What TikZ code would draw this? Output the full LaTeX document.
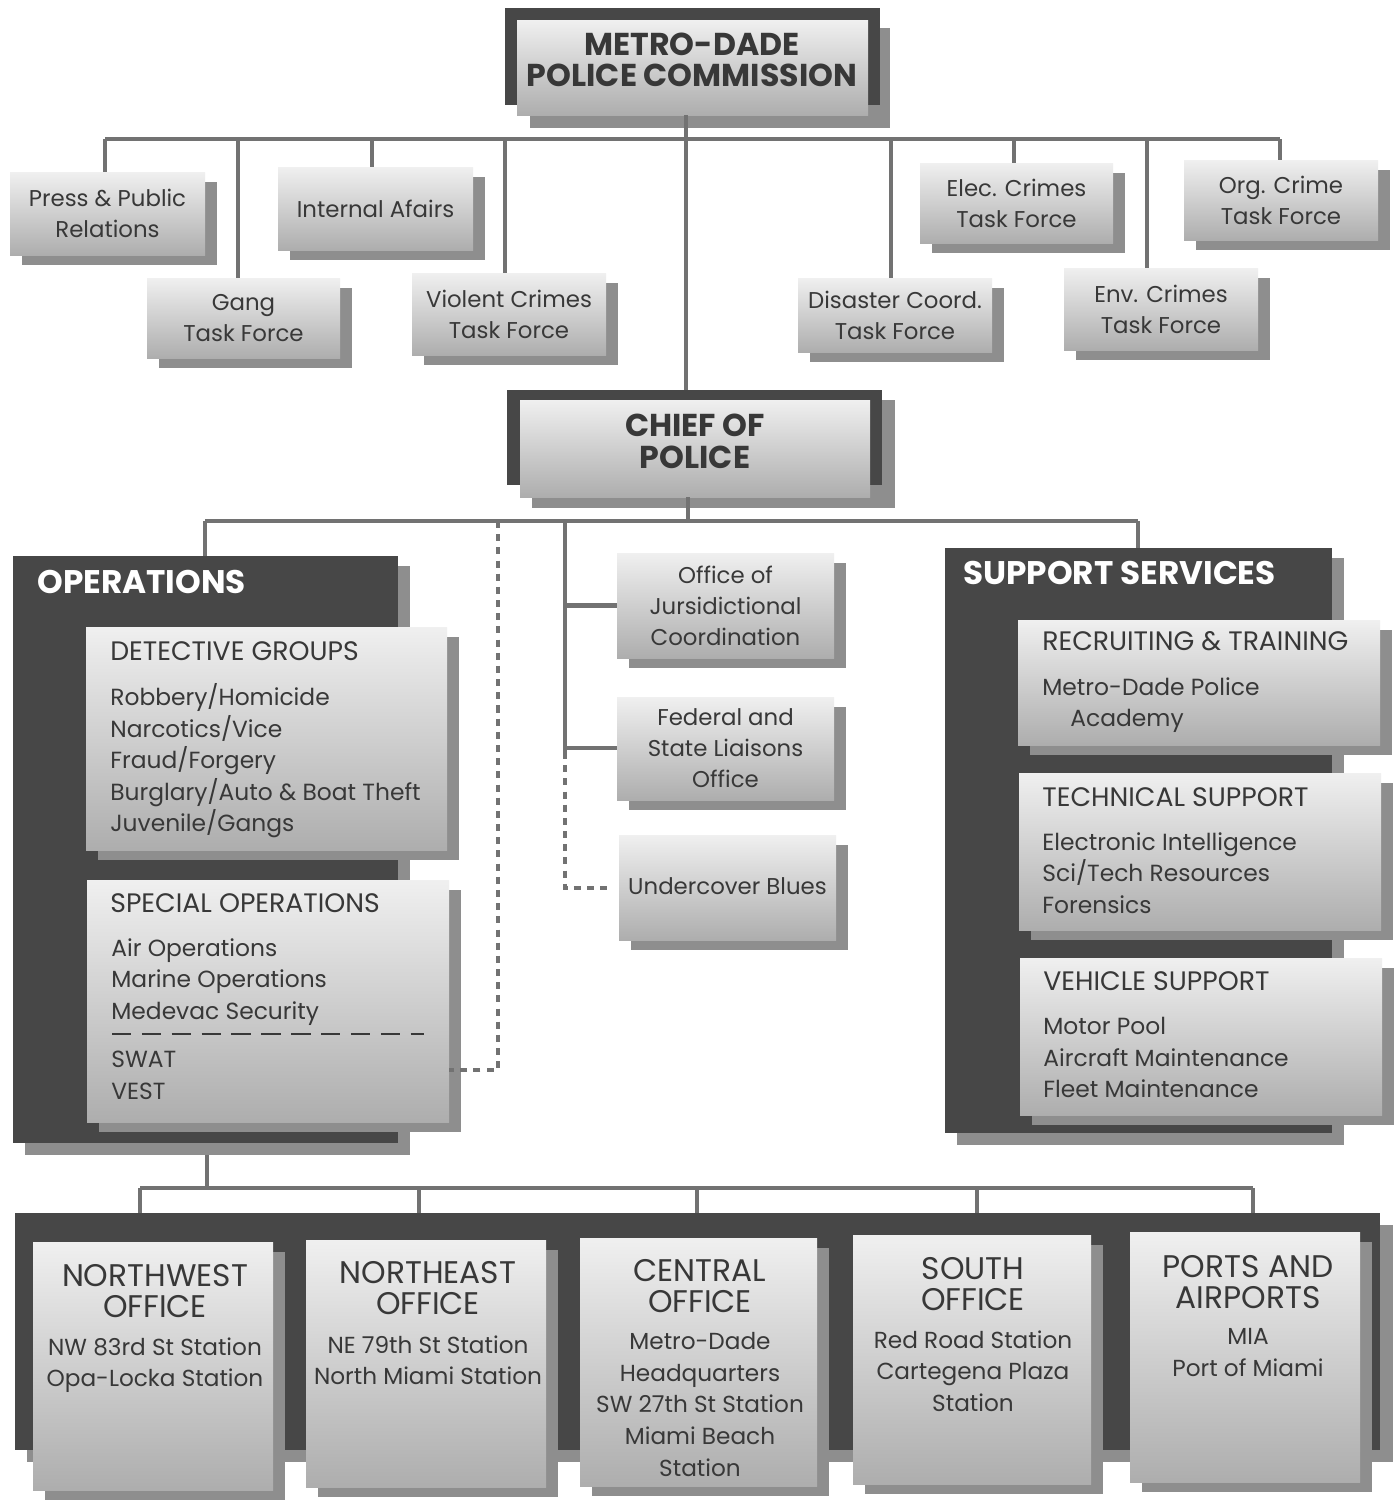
\documentclass[tikz,border=0pt]{standalone}
\usepackage{fontspec}
\setmainfont{Poppins}
\usetikzlibrary{fit}
\definecolor{framec}{HTML}{474747}
\definecolor{shadc}{HTML}{8E8E8E}
\definecolor{linec}{HTML}{727272}
\definecolor{inkc}{HTML}{383838}
\tikzset{
  panel/.style={top color=white!94!black, bottom color=white!68!black, draw=none, inner sep=0pt, outer sep=0pt},
  darkframe/.style={fill=framec, draw=none, inner sep=0pt, outer sep=0pt},
  shadowfill/.style={fill=shadc},
  conn/.style={draw=linec, line width=2.3pt},
  dconn/.style={draw=linec, line width=2.4pt, dash pattern=on 4pt off 3.5pt},
  boxtxt/.style={text=inkc, align=center, inner sep=0pt, font=\fontsize{13}{17.6}\selectfont},
  grouphead/.style={text=inkc, align=left, inner sep=0pt, anchor=north west, font=\fontsize{15.2}{18}\selectfont},
  groupitems/.style={text=inkc, align=left, inner sep=0pt, anchor=north west, font=\fontsize{13.3}{18}\selectfont},
  bighead/.style={text=inkc, align=center, inner sep=0pt, font=\bfseries\fontsize{18}{17.8}\selectfont},
  whitehead/.style={text=white, inner sep=0pt, anchor=north west, font=\bfseries\fontsize{18.6}{20}\selectfont},
  officehead/.style={text=inkc, align=center, inner sep=0pt, font=\fontsize{17.8}{17.6}\selectfont},
  officeitems/.style={text=inkc, align=center, inner sep=0pt, anchor=north, font=\fontsize{13.2}{18}\selectfont},
}
\newcommand\mkpanel[5]{%
  \fill[shadowfill] (#2+12,#3+10) rectangle (#4+12,#5+10);
  \node[panel, fit={(#2,#3) (#4,#5)}] (#1) {};
}
\newcommand\mkframe[5]{%
  \fill[shadowfill] (#2+12,#3+10) rectangle (#4+12,#5+12);
  \node[darkframe, fit={(#2,#3) (#4,#5)}] (#1) {};
}
\begin{document}
\begin{tikzpicture}[x=0.02cm, y=-0.02cm]
\fill[white] (0,0) rectangle (1400,1505);
\useasboundingbox (0,0) rectangle (1400,1505);

% ---------- Commission ----------
\fill[shadowfill] (530,28) rectangle (890,128);
\node[darkframe, fit={(505,8) (880,105)}] (commf) {};
\node[panel, fit={(517,20) (868,115)}] (comm) {};
\node[bighead] (commt) at (692,60) {METRO-DADE\\POLICE COMMISSION};

% ---------- Chief ----------
\fill[shadowfill] (532,400) rectangle (895,508);
\node[darkframe, fit={(507,390) (882,485)}] (chieff) {};
\node[panel, fit={(520,400) (870,497)}] (chief) {};
\node[bighead, font=\bfseries\fontsize{18}{18.2}\selectfont] (chieft) at (695,441) {CHIEF OF\\POLICE};

% ---------- top row boxes ----------
\mkpanel{press}{10}{172}{205}{255}
\mkpanel{gang}{147}{278}{340}{358}
\mkpanel{intaf}{278}{167}{473}{250}
\mkpanel{violent}{412}{273}{606}{355}
\mkpanel{disaster}{798}{278}{992}{352}
\mkpanel{elec}{920}{163}{1113}{243}
\mkpanel{env}{1064}{268}{1258}{350}
\mkpanel{org}{1184}{160}{1378}{240}
\node[boxtxt] (presst) at (press.center) {Press \& Public\\Relations};
\node[boxtxt] (gangt) at (gang.center) {Gang\\Task Force};
\node[boxtxt] (intaft) at (intaf.center) {Internal Afairs};
\node[boxtxt] (violentt) at (violent.center) {Violent Crimes\\Task Force};
\node[boxtxt] (disastert) at (disaster.center) {Disaster Coord.\\Task Force};
\node[boxtxt] (elect) at (elec.center) {Elec. Crimes\\Task Force};
\node[boxtxt] (envt) at (env.center) {Env. Crimes\\Task Force};
\node[boxtxt] (orgt) at (org.center) {Org. Crime\\Task Force};

% top bus
\coordinate (bL) at (105,139);
\coordinate (bR) at (1280,139);
\coordinate (bM) at (686,139);
\coordinate (bgang) at (238,139);
\coordinate (bintaf) at (372,139);
\coordinate (bviol) at (505,139);
\coordinate (bdis) at (891,139);
\coordinate (belec) at (1014,139);
\coordinate (benv) at (1147,139);
\draw[conn] (bL) -- (bR);
\draw[conn] (bM |- comm.south) -- (bM |- chieff.north);
\draw[conn] (bL) -- (bL |- press.north);
\draw[conn] (bgang) -- (bgang |- gang.north);
\draw[conn] (bintaf) -- (bintaf |- intaf.north);
\draw[conn] (bviol) -- (bviol |- violent.north);
\draw[conn] (bdis) -- (bdis |- disaster.north);
\draw[conn] (belec) -- (belec |- elec.north);
\draw[conn] (benv) -- (benv |- env.north);
\draw[conn] (bR) -- (bR |- org.north);

% ---------- Operations ----------
\mkframe{ops}{13}{556}{398}{1143}
\node[whitehead] (opst) at (37,570) {OPERATIONS};
\mkpanel{det}{86}{627}{447}{850}
\node[grouphead] (deth) at (110,641) {DETECTIVE GROUPS};
\node[groupitems] (deti) at (110,683) {Robbery/Homicide\\Narcotics/Vice\\Fraud/Forgery\\Burglary/Auto \& Boat Theft\\Juvenile/Gangs};
\mkpanel{spec}{87}{880}{449}{1122}
\node[grouphead] (spech) at (110,893) {SPECIAL OPERATIONS};
\node[groupitems] (speci) at (111,938) {Air Operations\\Marine Operations\\Medevac Security};
\coordinate (sdl) at (112,1034);
\coordinate (sdr) at (424,1034);
\draw[draw=inkc, line width=0.9pt, dash pattern=on 11pt off 6pt] (sdl) -- (sdr);
\node[groupitems] (specj) at (111,1051) {SWAT\\VEST};

% ---------- Support services ----------
\mkframe{sup}{945}{548}{1332}{1133}
\node[whitehead] (supt) at (963,561) {SUPPORT SERVICES};
\mkpanel{rec}{1018}{620}{1380}{745}
\node[grouphead] (rech) at (1042,631) {RECRUITING \& TRAINING};
\node[groupitems] (reci) at (1042,677) {Metro-Dade Police\\\hspace*{16pt}Academy};
\mkpanel{tech}{1019}{773}{1381}{930}
\node[grouphead] (techh) at (1042,787) {TECHNICAL SUPPORT};
\node[groupitems] (techi) at (1042,832) {Electronic Intelligence\\Sci/Tech Resources\\Forensics};
\mkpanel{veh}{1020}{958}{1382}{1115}
\node[grouphead] (vehh) at (1043,971) {VEHICLE SUPPORT};
\node[groupitems] (vehi) at (1043,1017) {Motor Pool\\Aircraft Maintenance\\Fleet Maintenance};

% ---------- middle boxes ----------
\mkpanel{juris}{617}{553}{834}{658}
\mkpanel{fed}{617}{697}{834}{800}
\mkpanel{under}{619}{835}{836}{940}
\node[boxtxt] (jurist) at (juris.center) {Office of\\Jursidictional\\Coordination};
\node[boxtxt] (fedt) at (fed.center) {Federal and\\State Liaisons\\Office};
\node[boxtxt] (undert) at ([yshift=0.02cm]under.center) {Undercover Blues};

% chief bus
\coordinate (cM) at (688,521);
\coordinate (cL) at (205,521);
\coordinate (cR) at (1138,521);
\coordinate (cD) at (498,521);
\coordinate (cS) at (565,521);
\coordinate (cS2) at (565,752);
\coordinate (cS3) at (565,888);
\draw[conn] (cM |- chief.south) -- (cM);
\draw[conn] (cL) -- (cR);
\draw[conn] (cL) -- (cL |- ops.north);
\draw[conn] (cR) -- (cR |- sup.north);
\draw[conn] (cS) -- (cS2);
\draw[conn] (cS |- juris.west) -- (juris.west);
\draw[conn] (565,748) coordinate (fj) -- (fj -| fed.west);
\draw[dconn] (cS2) -- (cS3) -- ([xshift=-0.18cm]cS3 -| under.west);
\draw[dconn] (cD) -- (498,1070) coordinate (dj) -- (dj -| spec.east);

% ---------- bottom ----------
\coordinate (oB) at (207,1188);
\draw[conn] (oB |- ops.south) ++(0,12) -- (oB);
\fill[shadowfill] (27,1225) rectangle (1393,1462);
\node[darkframe, fit={(15,1213) (1380,1450)}] (band) {};
\coordinate (d1) at (140,1188);
\coordinate (d2) at (419,1188);
\coordinate (d3) at (697,1188);
\coordinate (d4) at (977,1188);
\coordinate (d5) at (1253,1188);
\draw[conn] (d1) -- (d5);
\foreach \d in {d1,d2,d3,d4,d5} { \draw[conn] (\d) -- (\d |- band.north); }

\mkpanel{nw}{33}{1242}{273}{1490}
\mkpanel{ne}{306}{1240}{546}{1487}
\mkpanel{cen}{580}{1238}{817}{1486}
\mkpanel{south}{853}{1235}{1091}{1484}
\mkpanel{ports}{1130}{1232}{1360}{1482}

\node[officehead] (nwh) at (155,1291) {NORTHWEST\\OFFICE};
\node[officeitems] (nwi) at (155,1337) {NW 83rd St Station\\Opa-Locka Station};
\node[officehead] (neh) at (428,1288) {NORTHEAST\\OFFICE};
\node[officeitems] (nei) at (428,1335) {NE 79th St Station\\North Miami Station};
\node[officehead] (cenh) at (700,1286) {CENTRAL\\OFFICE};
\node[officeitems] (ceni) at (700,1332) {Metro-Dade\\Headquarters\\SW 27th St Station\\Miami Beach\\Station};
\node[officehead] (southh) at (973,1284) {SOUTH\\OFFICE};
\node[officeitems] (southi) at (973,1330) {Red Road Station\\Cartegena Plaza\\Station};
\node[officehead] (portsh) at (1248,1282) {PORTS AND\\AIRPORTS};
\node[officeitems] (portsi) at (1248,1328) {MIA\\Port of Miami};
\end{tikzpicture}
\end{document}
